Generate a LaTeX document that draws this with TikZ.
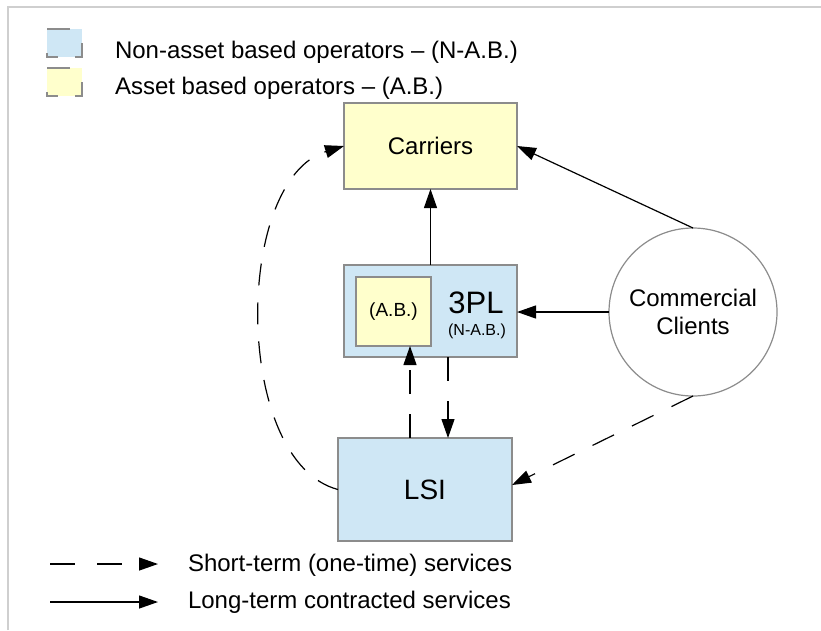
\documentclass[tikz,border=0pt]{standalone}
\usepackage{fontspec}
\setmainfont{Liberation Sans}
\usetikzlibrary{arrows.meta,calc}
\definecolor{nabblue}{HTML}{CFE7F5}
\definecolor{abyellow}{HTML}{FFFFCC}
\definecolor{boxline}{HTML}{8C8C8C}
\definecolor{framegray}{HTML}{CFCFCF}
\begin{document}
\begin{tikzpicture}[x=1pt,y=-1pt,
  every node/.style={inner sep=0pt, outer sep=0pt},
  txt/.style={font=\fontsize{24}{28}\selectfont},
  box/.style={draw=boxline, line width=1.2pt, rectangle, font=\fontsize{24}{28}\selectfont},
  tip/.style={-{Triangle[length=19pt,width=13pt]}},
  longterm/.style={tip, line width=1.2pt, black},
  shortterm/.style={tip, line width=1.2pt, black, dash pattern=on 24pt off 20pt},
  legcorner/.style={draw=boxline, line width=1.5pt}
]
\useasboundingbox (0,0) rectangle (821,630);
% outer frame (top and left edges)
\draw[framegray, line width=2pt] (8,630) -- (8,7) -- (821,7);

% legend: colour keys
\node[fill=nabblue, minimum width=35pt, minimum height=28pt] (keyblue) at (64.5,43) {};
\node[fill=abyellow, minimum width=35pt, minimum height=28pt] (keyyellow) at (64.5,82) {};
\foreach \k in {keyblue,keyyellow}{
  \draw[legcorner] (\k.north west) -- ++(23,0);
  \draw[legcorner] (\k.south west) ++(0,-4) -- (\k.south west) -- ++(11,0);
  \draw[legcorner] (\k.north east) ++(0,14) -- (\k.south east) -- ++(-7,0);
}
\node[txt, anchor=west] (keybluetxt) at (115,52) {Non-asset based operators – (N-A.B.)};
\node[txt, anchor=west] (keyyellowtxt) at (115,88) {Asset based operators – (A.B.)};

% actors
\node[box, fill=abyellow, minimum width=173pt, minimum height=86pt] (carriers) at (430.5,146) {Carriers};
\node[box, fill=nabblue, minimum width=173pt, minimum height=92pt] (tpl) at (430.5,311) {};
\node[box, fill=abyellow, minimum width=75pt, minimum height=69pt, font=\fontsize{19}{22}\selectfont] (ab) at (393.5,311.5) {(A.B.)};
\node[font=\fontsize{31}{34}\selectfont] (tpltxt) at (476,303) {3PL};
\node[font=\fontsize{16}{18}\selectfont] (tplsub) at (477,331) {(N-A.B.)};
\node[box, fill=nabblue, minimum width=174pt, minimum height=103pt, font=\fontsize{28}{32}\selectfont] (lsi) at (425,489.5) {LSI};
\node[circle, draw=boxline, line width=1.2pt, fill=white, minimum size=168pt, align=center,
      font=\fontsize{24}{28}\selectfont] (cc) at (693,312) {Commercial\\Clients};

% long-term contracted services
\draw[longterm] (tpl.north) -- (carriers.south);
\draw[longterm] (cc.west) -- (cc.west -| tpl.east);
\draw[longterm] (cc.north) -- (carriers.east);

% short-term services
\draw[shortterm] ([xshift=-15pt]lsi.north) -- ([xshift=-15pt]lsi.north |- ab.south);
\draw[shortterm] ([xshift=17.5pt]tpl.south) -- ([xshift=17.5pt]tpl.south |- lsi.north);
\draw[shortterm] (cc.south) -- ([yshift=4.5pt]lsi.east);
\draw[shortterm, dash pattern=on 22pt off 17pt] (lsi.west) .. controls (233,462) and (233,180) .. (carriers.west);

% legend: line styles
\coordinate (dashfrom) at (50,564);
\coordinate (dashto) at (158,564);
\coordinate (solidfrom) at (50,602);
\coordinate (solidto) at (158,602);
\draw[shortterm, dash pattern=on 25pt off 22pt] (dashfrom) -- (dashto);
\draw[longterm] (solidfrom) -- (solidto);
\node[txt, anchor=west] (shorttxt) at (188,565) {Short-term (one-time) services};
\node[txt, anchor=west] (longtxt) at (188,602) {Long-term contracted services};
\end{tikzpicture}
\end{document}
